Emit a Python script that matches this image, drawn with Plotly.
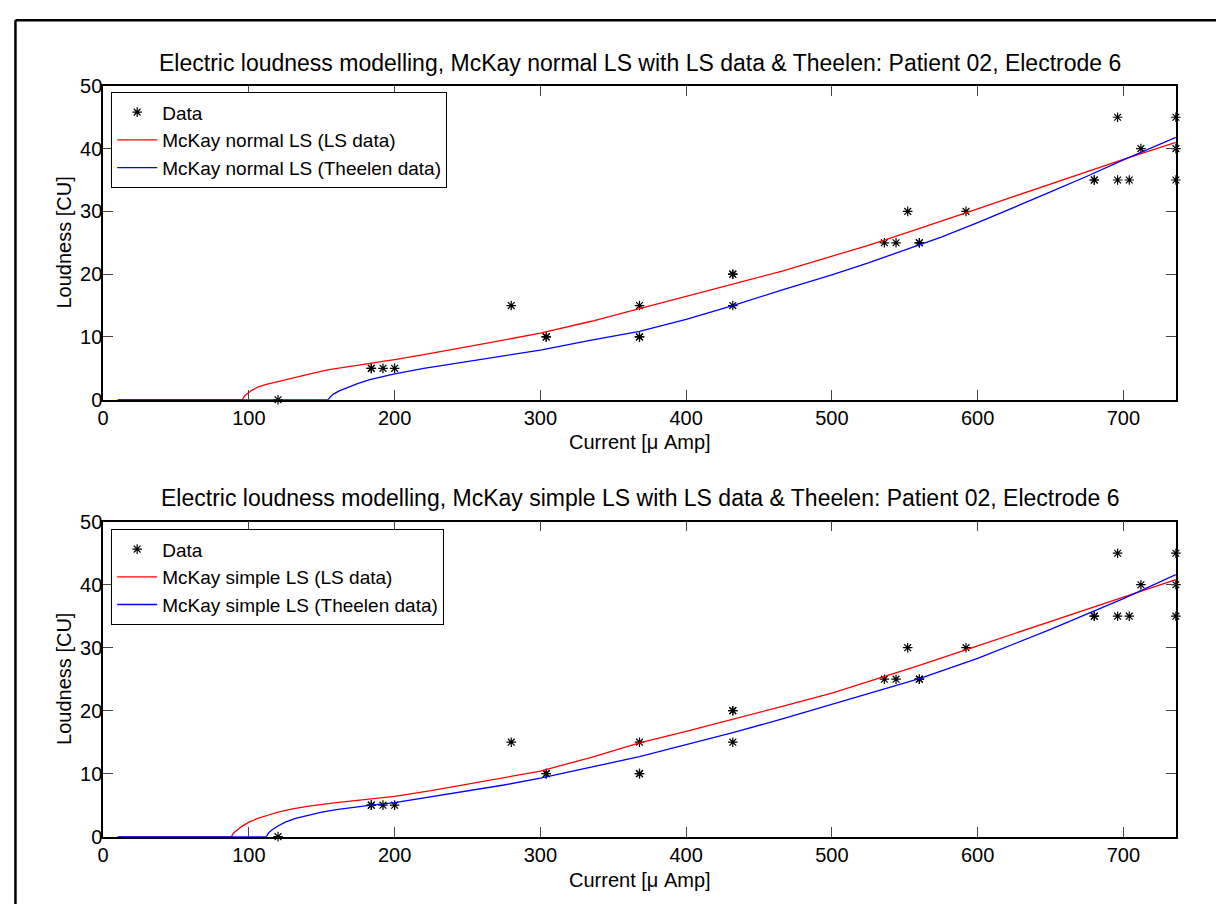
import plotly.graph_objects as go

# ---------------- data ----------------
data_x = [120, 184, 184, 192, 200, 280, 304, 304, 368, 368, 368, 432, 432, 432,
          536, 544, 552, 560, 560, 592, 680, 680, 696, 696, 704, 712, 736, 736, 736]
data_y = [0, 5, 5, 5, 5, 15, 10, 10, 15, 10, 10, 20, 20, 15,
          25, 25, 30, 25, 25, 30, 35, 35, 45, 35, 35, 40, 45, 40, 35]

# top panel: McKay normal LS
normal_ls_x = [10, 95.5, 97, 99, 102, 106, 112, 120, 130, 142, 155, 170, 185, 200,
               220, 240, 270, 300, 335, 368, 400, 432, 466, 500, 525, 550, 575, 600,
               625, 650, 675, 700, 736]
normal_ls_y = [0, 0, 0.6, 1.0, 1.5, 2.0, 2.45, 2.9, 3.5, 4.1, 4.8, 5.3, 5.85, 6.4,
               7.2, 8.0, 9.3, 10.6, 12.5, 14.5, 16.4, 18.4, 20.5, 22.8, 24.6, 26.5,
               28.4, 30.4, 32.4, 34.4, 36.4, 38.3, 41.0]
normal_th_x = [10, 154.5, 156, 158, 162, 167, 175, 183, 192, 200, 220, 240, 270, 300,
               335, 368, 400, 432, 466, 500, 525, 550, 575, 600, 625, 650, 675, 700,
               736]
normal_th_y = [0, 0, 0.5, 0.9, 1.4, 1.9, 2.6, 3.2, 3.7, 4.1, 5.0, 5.7, 6.8, 7.9,
               9.5, 10.9, 12.8, 15.0, 17.5, 19.9, 21.8, 23.8, 25.9, 28.2, 30.6,
               33.1, 35.6, 38.2, 41.8]

# bottom panel: McKay simple LS
simple_ls_x = [10, 88, 89.5, 92, 95, 100, 106, 113, 120, 130, 140, 160, 184, 200,
               225, 250, 275, 300, 335, 368, 400, 432, 466, 500, 530, 560, 600, 650,
               700, 736]
simple_ls_y = [0, 0, 0.6, 1.1, 1.6, 2.3, 2.9, 3.4, 3.9, 4.4, 4.8, 5.4, 6.0, 6.4,
               7.3, 8.3, 9.3, 10.4, 12.6, 14.9, 16.7, 18.6, 20.7, 22.8, 25.0, 27.2,
               30.3, 34.2, 38.1, 40.8]
simple_th_x = [10, 112, 113.5, 116, 120, 125, 132, 140, 150, 160, 172, 184, 200,
               225, 250, 275, 300, 335, 368, 400, 432, 466, 500, 530, 560, 600,
               650, 700, 736]
simple_th_y = [0, 0, 0.6, 1.1, 1.7, 2.3, 2.9, 3.4, 3.9, 4.3, 4.7, 5.0, 5.4,
               6.3, 7.2, 8.2, 9.3, 11.0, 12.7, 14.6, 16.5, 18.7, 21.0, 23.0, 25.1,
               28.3, 32.9, 37.8, 41.6]

x_ticks = [0, 100, 200, 300, 400, 500, 600, 700]
y_ticks = [0, 10, 20, 30, 40, 50]

titles = [
    "Electric loudness modelling, McKay normal LS with LS data & Theelen: Patient 02, Electrode 6",
    "Electric loudness modelling, McKay simple LS with LS data & Theelen: Patient 02, Electrode 6",
]
x_label = "Current [\u03bc Amp]"
y_label = "Loudness [CU]"

# ---------------- figure ----------------
W, H = 1216, 915
FONT = "Liberation Sans, Arial, Helvetica, sans-serif"

fig = go.Figure()

star = dict(symbol="asterisk-open", size=8, color="black",
            line=dict(color="black", width=1.2))

panels = [
    ("x", "y", "legend", normal_ls_x, normal_ls_y, normal_th_x, normal_th_y,
     "McKay normal LS (LS data)", "McKay normal LS (Theelen data)"),
    ("x2", "y2", "legend2", simple_ls_x, simple_ls_y, simple_th_x, simple_th_y,
     "McKay simple LS (LS data)", "McKay simple LS (Theelen data)"),
]

for xa, ya, lg, rx, ry, bx, by, rname, bname in panels:
    fig.add_trace(go.Scatter(x=data_x, y=data_y, mode="markers", marker=star,
                             name="Data", xaxis=xa, yaxis=ya, legend=lg,
                             cliponaxis=False))
    fig.add_trace(go.Scatter(x=rx, y=ry, mode="lines", name=rname,
                             line=dict(color="#ff0000", width=1.3),
                             xaxis=xa, yaxis=ya, legend=lg))
    fig.add_trace(go.Scatter(x=bx, y=by, mode="lines", name=bname,
                             line=dict(color="#0000ff", width=1.3),
                             xaxis=xa, yaxis=ya, legend=lg))

x_dom = [97.6 / W, 1175.7 / W]
y_doms = [[(H - 398.3) / H, (H - 76.7) / H], [(H - 846) / H, (H - 523.3) / H]]

axis_common = dict(showline=True, linecolor="black", linewidth=1.5, mirror="ticks",
                   ticks="inside", ticklen=10, tickwidth=1, tickcolor="#444",
                   showgrid=False, zeroline=False,
                   tickfont=dict(family=FONT, size=20, color="black"))

fig.update_layout(
    xaxis=dict(domain=x_dom, range=[0, 736], tickvals=x_ticks, anchor="y",
               **axis_common),
    yaxis=dict(domain=y_doms[0], range=[0, 50], tickvals=y_ticks, anchor="x",
               ticklabelstandoff=-5, **axis_common),
    xaxis2=dict(domain=x_dom, range=[0, 736], tickvals=x_ticks, anchor="y2",
                **axis_common),
    yaxis2=dict(domain=y_doms[1], range=[0, 50], tickvals=y_ticks, anchor="x2",
                ticklabelstandoff=-5, **axis_common),
)

leg_common = dict(bgcolor="white", bordercolor="black", borderwidth=1,
                  font=dict(family=FONT, size=19, color="black"),
                  itemwidth=40, tracegroupgap=0, xanchor="left", yanchor="top",
                  itemclick=False)
fig.update_layout(
    legend=dict(x=105.7 / W, y=(H - 83.3) / H, **leg_common),
    legend2=dict(x=105.7 / W, y=(H - 531) / H, **leg_common),
)

ann = []
for title, yc in zip(titles, [53, 499]):
    ann.append(dict(text=title, x=(97.6 + 1175.7) / 2 / W, y=(H - yc) / H,
                    xref="paper", yref="paper", xanchor="center", yanchor="middle",
                    showarrow=False, font=dict(family=FONT, size=23, color="black")))
for yc in [442, 890]:
    ann.append(dict(text=x_label, x=(97.6 + 1175.7) / 2 / W, y=(H - yc) / H,
                    xref="paper", yref="paper", xanchor="center", yanchor="middle",
                    showarrow=False, font=dict(family=FONT, size=20, color="black")))
for yc in [237.5, 684.65]:
    ann.append(dict(text=y_label, x=58 / W, y=(H - yc) / H, textangle=-90,
                    xref="paper", yref="paper", xanchor="center", yanchor="middle",
                    showarrow=False, font=dict(family=FONT, size=20, color="black")))

shapes = [
    dict(type="line", xref="paper", yref="paper", x0=9.5 / W, x1=1.0,
         y0=(H - 9.5) / H, y1=(H - 9.5) / H, line=dict(color="black", width=2.5)),
    dict(type="line", xref="paper", yref="paper", x0=9.5 / W, x1=9.5 / W,
         y0=0, y1=(H - 9.5) / H, line=dict(color="black", width=2.5)),
]

fig.update_layout(
    width=W, height=H, margin=dict(l=0, r=0, t=0, b=0),
    paper_bgcolor="white", plot_bgcolor="white",
    annotations=ann, shapes=shapes, showlegend=True,
    font=dict(family=FONT, size=20, color="black"),
)

fig.write_html(
    "out.html",
    post_script="document.body.style.margin='0';document.body.style.overflow='hidden';",
)
